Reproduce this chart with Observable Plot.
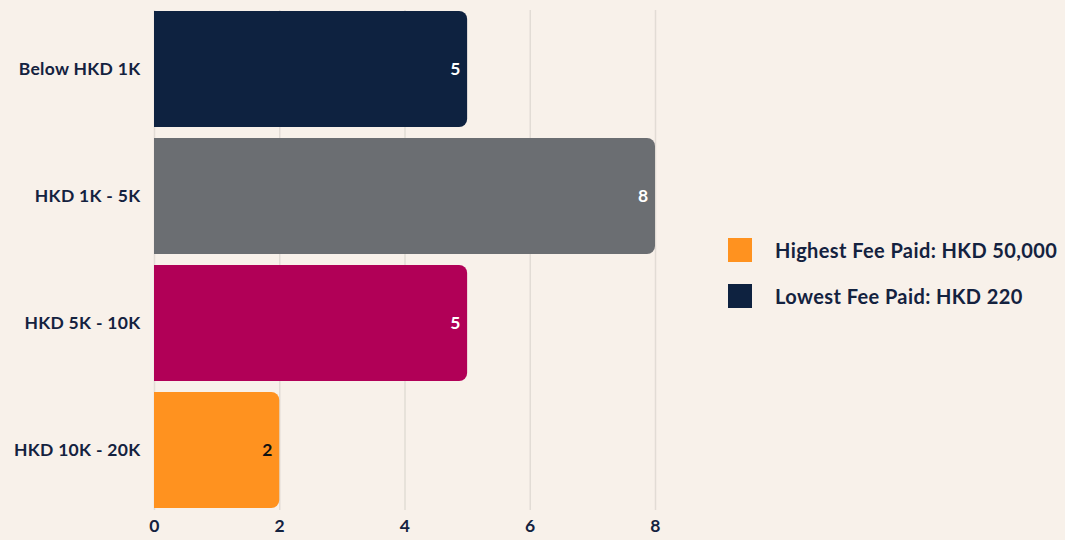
<!DOCTYPE html>
<html><head><meta charset="utf-8">
<script src="https://cdn.jsdelivr.net/npm/d3@7"></script>
<script src="https://cdn.jsdelivr.net/npm/@observablehq/plot@0.6"></script>
<style>
html,body{margin:0;padding:0;background:#f8f1ea;}
#wrap{position:relative;width:1065px;height:540px;font-family:Lato,"Noto Sans",sans-serif;}
#legend{position:absolute;left:728px;top:238px;color:#14223f;font-weight:700;font-size:20px;letter-spacing:0.4px;}
.li{display:flex;align-items:center;height:24px;margin-bottom:22px;white-space:nowrap;}
.sw{width:24px;height:24px;margin-right:23px;flex:none;}
</style></head>
<body><div id="wrap"></div>
<script>
const categories = ["Below HKD 1K", "HKD 1K - 5K", "HKD 5K - 10K", "HKD 10K - 20K"];
const counts = [5, 8, 5, 2];
const barColors = ["#0e2240", "#6b6e72", "#b10057", "#ff921f"];
const labelColors = ["#ffffff", "#ffffff", "#ffffff", "#111111"];
const xTicks = [0, 2, 4, 6, 8];
const legendLabels = ["Highest Fee Paid: HKD 50,000", "Lowest Fee Paid: HKD 220"];
const legendColors = ["#ff921f", "#0e2240"];

const data = categories.map((c, i) => ({cat: c, n: counts[i], fill: barColors[i], lc: labelColors[i]}));

const chart = Plot.plot({
  width: 1065, height: 540,
  marginLeft: 154, marginRight: 410, marginTop: 10, marginBottom: 30,
  style: {background: "transparent", fontFamily: "Lato, 'Noto Sans', sans-serif", fontSize: "17.5px", fontWeight: 700, color: "#14223f", letterSpacing: "0.3px"},
  x: {domain: [0, 8], ticks: xTicks, tickSize: 0, tickPadding: 9, label: null},
  y: {domain: categories, paddingInner: 0.086, paddingOuter: 0, tickSize: 0, tickPadding: 14, label: null},
  marks: [
    Plot.ruleX(xTicks, {stroke: "#e2dcd5", strokeWidth: 1.5}),
    Plot.barX(data, {x: "n", y: "cat", fill: d => d.fill, rx2: 8, r2: 8}),
    Plot.text(data, {x: "n", y: "cat", text: d => String(d.n), fill: d => d.lc, textAnchor: "end", dx: -7, fontSize: 17.5, fontWeight: 700})
  ]
});
document.getElementById("wrap").appendChild(chart);

const lg = document.createElement("div");
lg.id = "legend";
legendLabels.forEach((t, i) => {
  const row = document.createElement("div"); row.className = "li";
  const sw = document.createElement("div"); sw.className = "sw"; sw.style.background = legendColors[i];
  const tx = document.createElement("span"); tx.textContent = t;
  row.appendChild(sw); row.appendChild(tx); lg.appendChild(row);
});
document.getElementById("wrap").appendChild(lg);
</script></body></html>
